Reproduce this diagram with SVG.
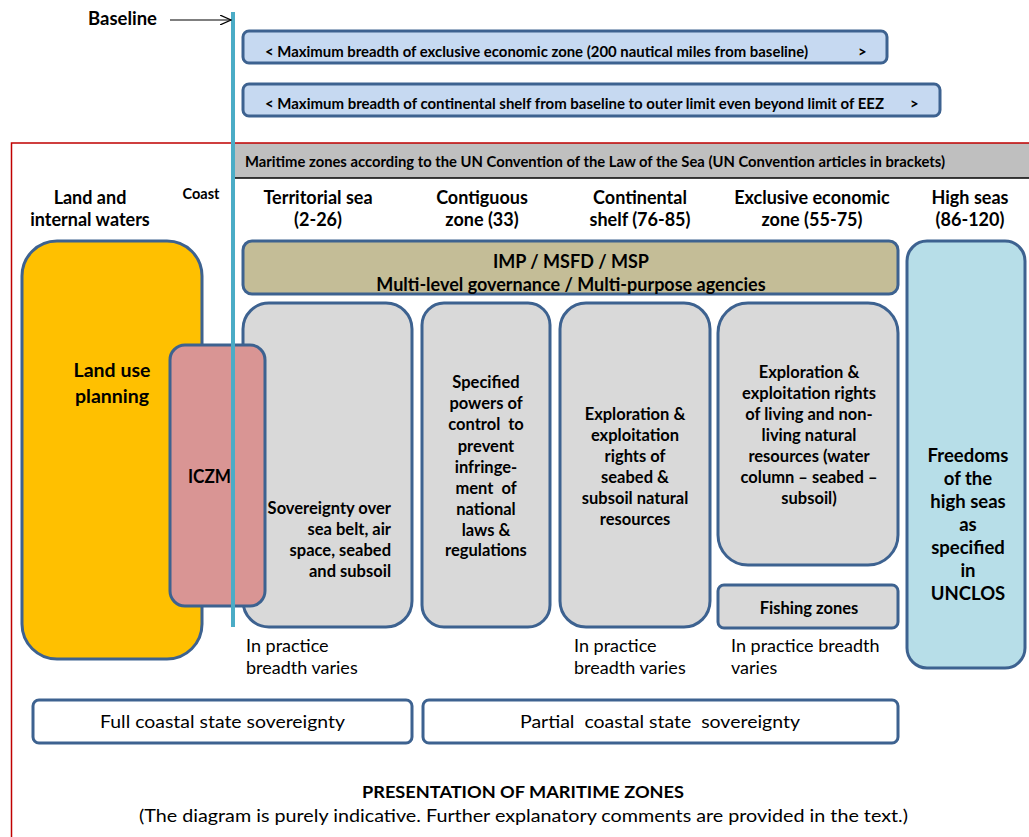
<svg xmlns="http://www.w3.org/2000/svg" width="1029" height="837" viewBox="0 0 1029 837">
  <style>
    text { font-family: Lato, "Noto Sans", "Liberation Sans", sans-serif; fill: #000; }
    .b { font-weight: bold; }
    .box { stroke: #3d6290; stroke-width: 3; }
    .hdr { font-size: 18px; font-weight: bold; text-anchor: middle; }
    .cell { font-size: 16.5px; font-weight: bold; text-anchor: middle; }
    .cell.end { text-anchor: end; }
    .note { font-size: 18px; }
    .range { font-size: 15px; font-weight: bold; }
  </style>
  <defs>
    <marker id="open" viewBox="0 0 12 10" refX="11" refY="5" markerWidth="12" markerHeight="10" markerUnits="userSpaceOnUse" orient="auto">
      <path d="M0,0 L11,5 L0,10" fill="none" stroke="#000" stroke-width="1.2"/>
    </marker>
  </defs>

  <rect width="1029" height="837" fill="#fff"/>

  <!-- band with convention heading -->
  <rect x="235" y="143" width="800" height="35" fill="#bfbfbf"/>
  <line x1="235" y1="178" x2="1029" y2="178" stroke="#000" stroke-width="1.5"/>
  <text x="245" y="167" class="range" textLength="700" lengthAdjust="spacingAndGlyphs">Maritime zones according to the UN Convention of the Law of the Sea (UN Convention articles in brackets)</text>

  <!-- outer red frame -->
  <rect x="11.5" y="143" width="1100" height="800" fill="none" stroke="#c00000" stroke-width="1.5"/>

  <!-- breadth bars -->
  <g id="eez-breadth">
    <rect class="box" x="243" y="31" width="644" height="32" rx="6" fill="#c6d9f1"/>
    <text x="265" y="57" class="range" textLength="543" lengthAdjust="spacingAndGlyphs">&lt; Maximum breadth of exclusive economic zone (200 nautical miles from baseline)</text>
    <text x="858" y="57" class="range">&gt;</text>
  </g>
  <g id="shelf-breadth">
    <rect class="box" x="243" y="84" width="697" height="32" rx="6" fill="#c6d9f1"/>
    <text x="265" y="109" class="range" textLength="619" lengthAdjust="spacingAndGlyphs">&lt; Maximum breadth of continental shelf from baseline to outer limit even beyond limit of EEZ</text>
    <text x="910" y="109" class="range">&gt;</text>
  </g>

  <!-- column headings -->
  <g id="headings">
    <text class="hdr" x="90" y="204">Land and</text>
    <text class="hdr" x="90" y="226">internal waters</text>
    <text x="201" y="199" font-size="14.5" class="b" text-anchor="middle">Coast</text>
    <text class="hdr" x="318" y="204">Territorial sea</text>
    <text class="hdr" x="318" y="226">(2-26)</text>
    <text class="hdr" x="482" y="204">Contiguous</text>
    <text class="hdr" x="482" y="226">zone (33)</text>
    <text class="hdr" x="640" y="204">Continental</text>
    <text class="hdr" x="640" y="226">shelf (76-85)</text>
    <text class="hdr" x="812" y="204">Exclusive economic</text>
    <text class="hdr" x="812" y="226">zone (55-75)</text>
    <text class="hdr" x="970" y="204">High seas</text>
    <text class="hdr" x="970" y="226">(86-120)</text>
  </g>

  <g id="land-use">
    <rect class="box" x="22" y="241" width="180" height="418" rx="35" fill="#ffc000"/>
    <text x="112" y="377" font-size="19.5" class="b" text-anchor="middle">Land use</text>
    <text x="112" y="403" font-size="19.5" class="b" text-anchor="middle">planning</text>
  </g>

  <g id="governance">
    <rect class="box" x="243" y="241" width="655" height="53" rx="9" fill="#c4bd97"/>
    <text class="hdr" x="571" y="268">IMP / MSFD / MSP</text>
    <text class="hdr" x="571" y="291">Multi-level governance / Multi-purpose agencies</text>
  </g>

  <g id="territorial">
    <rect class="box" x="243" y="303" width="169" height="324" rx="26" fill="#d9d9d9"/>
    <text class="cell end" x="391" y="514">Sovereignty over</text>
    <text class="cell end" x="391" y="535">sea belt, air</text>
    <text class="cell end" x="391" y="556">space, seabed</text>
    <text class="cell end" x="391" y="577">and subsoil</text>
  </g>

  <g id="iczm">
    <rect class="box" x="170" y="345" width="95" height="261" rx="15" fill="#d99594"/>
    <text x="188" y="483" font-size="18.5" class="b" textLength="43" lengthAdjust="spacingAndGlyphs">ICZM</text>
  </g>

  <g id="contiguous">
    <rect class="box" x="422" y="303" width="128" height="324" rx="22" fill="#d9d9d9"/>
    <text class="cell" x="486" y="388">Specified</text>
    <text class="cell" x="486" y="409">powers of</text>
    <text class="cell" x="486" y="430" xml:space="preserve">control  to</text>
    <text class="cell" x="486" y="452">prevent</text>
    <text class="cell" x="486" y="473">infringe-</text>
    <text class="cell" x="486" y="494" xml:space="preserve">ment  of</text>
    <text class="cell" x="486" y="515">national</text>
    <text class="cell" x="486" y="536">laws &amp;</text>
    <text class="cell" x="486" y="556">regulations</text>
  </g>

  <g id="continental">
    <rect class="box" x="560" y="303" width="150" height="324" rx="26" fill="#d9d9d9"/>
    <text class="cell" x="635" y="420">Exploration &amp;</text>
    <text class="cell" x="635" y="441">exploitation</text>
    <text class="cell" x="635" y="462">rights of</text>
    <text class="cell" x="635" y="483">seabed &amp;</text>
    <text class="cell" x="635" y="504">subsoil natural</text>
    <text class="cell" x="635" y="525">resources</text>
  </g>

  <g id="eez">
    <rect class="box" x="718" y="303" width="180" height="262" rx="30" fill="#d9d9d9"/>
    <text class="cell" x="809" y="378">Exploration &amp;</text>
    <text class="cell" x="809" y="399">exploitation rights</text>
    <text class="cell" x="809" y="420">of living and non-</text>
    <text class="cell" x="809" y="441">living natural</text>
    <text class="cell" x="809" y="462">resources (water</text>
    <text class="cell" x="809" y="483">column – seabed –</text>
    <text class="cell" x="809" y="504">subsoil)</text>
  </g>

  <g id="fishing">
    <rect class="box" x="718" y="585" width="180" height="43" rx="6" fill="#d9d9d9"/>
    <text class="cell" x="809" y="614">Fishing zones</text>
  </g>

  <g id="high-seas">
    <rect class="box" x="907" y="241" width="118" height="427" rx="20" fill="#b7dee8"/>
    <g font-size="18.5" class="b" text-anchor="middle">
      <text x="968" y="462">Freedoms</text>
      <text x="968" y="485">of the</text>
      <text x="968" y="508">high seas</text>
      <text x="968" y="531">as</text>
      <text x="968" y="554">specified</text>
      <text x="968" y="577">in</text>
      <text x="968" y="600">UNCLOS</text>
    </g>
  </g>

  <!-- baseline marker -->
  <g id="connectors">
    <line x1="233" y1="12" x2="233" y2="627" stroke="#4bacc6" stroke-width="4"/>
    <line x1="170" y1="20" x2="231" y2="20" stroke="#000" stroke-width="1.2" marker-end="url(#open)"/>
  </g>
  <text x="88" y="25" font-size="18" class="b" textLength="69" lengthAdjust="spacingAndGlyphs">Baseline</text>

  <g id="notes">
    <text class="note" x="246" y="652">In practice</text>
    <text class="note" x="246" y="674">breadth varies</text>
    <text class="note" x="574" y="652">In practice</text>
    <text class="note" x="574" y="674">breadth varies</text>
    <text class="note" x="731" y="652">In practice breadth</text>
    <text class="note" x="731" y="674">varies</text>
  </g>

  <g id="full-sovereignty">
    <rect class="box" x="33" y="700" width="379" height="43" rx="6" fill="#fff"/>
    <text class="note" x="100" y="728" textLength="245" lengthAdjust="spacingAndGlyphs">Full coastal state sovereignty</text>
  </g>
  <g id="partial-sovereignty">
    <rect class="box" x="423" y="700" width="475" height="43" rx="6" fill="#fff"/>
    <text class="note" x="520" y="728" textLength="280" lengthAdjust="spacingAndGlyphs" xml:space="preserve">Partial  coastal state  sovereignty</text>
  </g>

  <text x="362" y="798" font-size="17" class="b" textLength="322" lengthAdjust="spacingAndGlyphs">PRESENTATION OF MARITIME ZONES</text>
  <text x="139" y="822" font-size="18" textLength="769" lengthAdjust="spacingAndGlyphs">(The diagram is purely indicative. Further explanatory comments are provided in the text.)</text>
</svg>
